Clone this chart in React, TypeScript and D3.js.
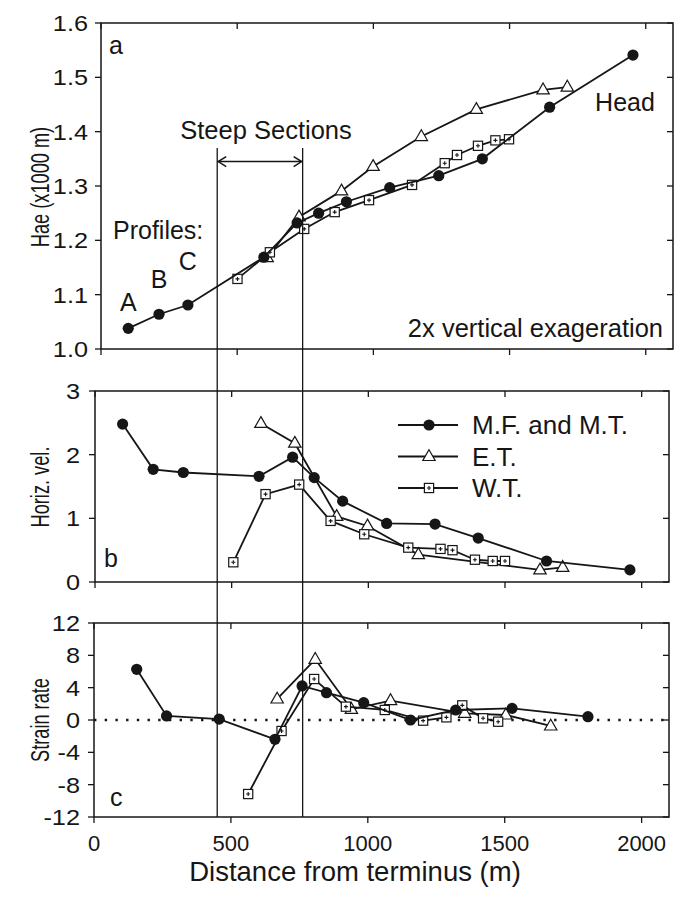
import React from "react";
import * as d3 from "d3";

// ---------- data ----------
const xTicks = [0, 500, 1000, 1500, 2000];

// panel a: elevation (x1000 m)
const mfDistA = [100, 213, 319, 598, 720, 799, 901, 1060, 1240, 1400, 1647, 1953];
const mfElev = [1.038, 1.064, 1.081, 1.169, 1.232, 1.25, 1.271, 1.297, 1.319, 1.35, 1.445, 1.541];
const etDistA = [610, 727, 883, 999, 1176, 1378, 1623, 1712];
const etElev = [1.168, 1.243, 1.291, 1.336, 1.391, 1.441, 1.477, 1.482];
const wtDistA = [501, 620, 746, 858, 984, 1142, 1262, 1307, 1384, 1448, 1498];
const wtElev = [1.129, 1.178, 1.221, 1.252, 1.274, 1.302, 1.342, 1.357, 1.374, 1.384, 1.386];
const elevTicks = [1.0, 1.1, 1.2, 1.3, 1.4, 1.5, 1.6];

// panel b: horizontal velocity
const mfDistB = [101, 213, 323, 600, 723, 802, 906, 1067, 1244, 1402, 1652, 1957];
const mfVel = [2.48, 1.77, 1.72, 1.66, 1.96, 1.64, 1.27, 0.92, 0.91, 0.69, 0.33, 0.19];
const etDistB = [607, 731, 884, 997, 1183, 1628, 1711];
const etVel = [2.49, 2.18, 1.03, 0.88, 0.43, 0.19, 0.23];
const wtDistB = [506, 624, 747, 862, 985, 1146, 1264, 1308, 1390, 1455, 1500];
const wtVel = [0.31, 1.38, 1.53, 0.96, 0.75, 0.54, 0.52, 0.5, 0.35, 0.33, 0.33];
const velTicks = [0, 1, 2, 3];

// panel c: strain rate
const mfDistC = [156, 265, 457, 661, 760, 849, 985, 1156, 1321, 1527, 1804];
const mfStrain = [6.27, 0.5, 0.12, -2.39, 4.21, 3.38, 2.14, 0.0, 1.24, 1.44, 0.41];
const etDistC = [669, 808, 940, 1083, 1354, 1504, 1668];
const etStrain = [2.6, 7.51, 1.32, 2.4, 0.83, 0.62, -0.74];
const wtDistC = [563, 685, 804, 920, 1062, 1202, 1287, 1345, 1421, 1476];
const wtStrain = [-9.16, -1.36, 5.07, 1.65, 1.24, -0.08, 0.33, 1.81, 0.21, -0.21];
const strainTicks = [12, 8, 4, 0, -4, -8, -12];

const legendLabels = ["M.F. and M.T.", "E.T.", "W.T."];
const steepBounds = [450, 762];
const profileLabels = ["A", "B", "C"];

// ---------- style ----------
const FONT = "Liberation Sans, Arial, sans-serif";
const INK = "#161616";

type Kind = "circle" | "triangle" | "square";

function Marker({ x, y, kind }: { x: number; y: number; kind: Kind }) {
  if (kind === "circle") return <circle cx={x} cy={y} r={5.6} fill={INK} />;
  if (kind === "triangle")
    return (
      <path
        d={`M${x},${y - 6.8}L${x + 6.2},${y + 4}L${x - 6.2},${y + 4}Z`}
        fill="#fff"
        stroke={INK}
        strokeWidth={1.2}
      />
    );
  return (
    <g>
      <rect x={x - 4.6} y={y - 4.6} width={9.2} height={9.2} fill="#fff" stroke={INK} strokeWidth={1.2} />
      <path d={`M${x - 2},${y}H${x + 2}M${x},${y - 2}V${y + 2}`} stroke={INK} strokeWidth={1.1} />
    </g>
  );
}

function Series({ xs, ys, sx, sy, kind }: { xs: number[]; ys: number[]; sx: any; sy: any; kind: Kind }) {
  const pts = xs.map((v, i) => [sx(v), sy(ys[i])] as [number, number]);
  const line = d3.line()(pts) || "";
  return (
    <g>
      <path d={line} fill="none" stroke={INK} strokeWidth={1.8} />
      {pts.map((p, i) => (
        <Marker key={i} x={p[0]} y={p[1]} kind={kind} />
      ))}
    </g>
  );
}

function Frame({ sx, sy, yTicks, fmt, labelGap }: { sx: any; sy: any; yTicks: number[]; fmt: (v: number) => string; labelGap: number }) {
  const [x0, x1] = sx.range();
  const [yb, yt] = sy.range();
  const T = 6;
  return (
    <g>
      <rect x={x0} y={yt} width={x1 - x0} height={yb - yt} fill="none" stroke={INK} strokeWidth={1.5} />
      {xTicks.map((t) => (
        <g key={"x" + t}>
          <line x1={sx(t)} x2={sx(t)} y1={yb} y2={yb + T} stroke={INK} strokeWidth={1.3} />
          <line x1={sx(t)} x2={sx(t)} y1={yt} y2={yt + T} stroke={INK} strokeWidth={1.3} />
        </g>
      ))}
      {yTicks.map((t) => (
        <g key={"y" + t}>
          <line x1={x0 - T} x2={x0} y1={sy(t)} y2={sy(t)} stroke={INK} strokeWidth={1.3} />
          <line x1={x1 - T} x2={x1} y1={sy(t)} y2={sy(t)} stroke={INK} strokeWidth={1.3} />
          <g transform={`translate(${x0 - T - labelGap},${sy(t)}) scale(1.15,1)`}>
            <text dy="0.36em" textAnchor="end" fontSize={22} fontFamily={FONT} fill={INK}>
              {fmt(t)}
            </text>
          </g>
        </g>
      ))}
    </g>
  );
}

function YTitle({ x, y, text }: { x: number; y: number; text: string }) {
  return (
    <g transform={`translate(${x},${y}) rotate(-90) scale(0.7,1)`}>
      <text textAnchor="middle" fontSize={26} fontFamily={FONT} fill={INK} dy="0.36em">
        {text}
      </text>
    </g>
  );
}

export default function App() {
  const xA = d3.scaleLinear().domain([0, 2100]).range([101, 673]);
  const yA = d3.scaleLinear().domain([1.0, 1.6]).range([349, 23]);
  const xB = d3.scaleLinear().domain([0, 2100]).range([95, 669]);
  const yB = d3.scaleLinear().domain([0, 3]).range([582, 391]);
  const xC = d3.scaleLinear().domain([0, 2100]).range([94, 669]);
  const yC = d3.scaleLinear().domain([-12, 12]).range([817, 623]);

  const sL = xC(steepBounds[0]);
  const sR = xC(steepBounds[1]);
  const steepTop = yA(1.37);
  const arrowY = yA(1.345);

  const legendRows = [
    { label: legendLabels[0], kind: "circle" as Kind },
    { label: legendLabels[1], kind: "triangle" as Kind },
    { label: legendLabels[2], kind: "square" as Kind },
  ];

  return (
    <svg width={675} height={912} style={{ position: "absolute", left: 0, top: 0, background: "#fff" }}>
      {/* panel a */}
      <Frame sx={xA} sy={yA} yTicks={elevTicks} fmt={(v) => v.toFixed(1)} labelGap={7} />
      <Series xs={etDistA} ys={etElev} sx={xA} sy={yA} kind="triangle" />
      <Series xs={wtDistA} ys={wtElev} sx={xA} sy={yA} kind="square" />
      <Series xs={mfDistA} ys={mfElev} sx={xA} sy={yA} kind="circle" />
      <text x={109} y={54} fontSize={25} fontFamily={FONT} fill={INK}>a</text>
      <text x={113} y={239} fontSize={25} fontFamily={FONT} fill={INK}>Profiles:</text>
      {profileLabels.map((p, i) => (
        <text
          key={p}
          x={xA(mfDistA[i])}
          y={yA(mfElev[i]) - 17 - i * 9}
          textAnchor="middle"
          fontSize={25}
          fontFamily={FONT}
          fill={INK}
        >
          {p}
        </text>
      ))}
      <text x={625} y={111} textAnchor="middle" fontSize={25} fontFamily={FONT} fill={INK}>Head</text>
      <text x={663} y={337} textAnchor="end" fontSize={25.5} fontFamily={FONT} fill={INK}>2x vertical exageration</text>
      <text x={266} y={139} textAnchor="middle" fontSize={25.5} fontFamily={FONT} fill={INK}>Steep Sections</text>

      {/* steep section markers */}
      <line x1={sL} x2={sL} y1={steepTop} y2={yC(-12)} stroke={INK} strokeWidth={1.3} />
      <line x1={sR} x2={sR} y1={steepTop} y2={yC(-12)} stroke={INK} strokeWidth={1.3} />
      <line x1={sL + 1} x2={sR - 1} y1={arrowY} y2={arrowY} stroke={INK} strokeWidth={1.5} />
      <path d={`M${sL + 9},${arrowY - 5}L${sL + 1},${arrowY}L${sL + 9},${arrowY + 5}`} fill="none" stroke={INK} strokeWidth={1.5} />
      <path d={`M${sR - 9},${arrowY - 5}L${sR - 1},${arrowY}L${sR - 9},${arrowY + 5}`} fill="none" stroke={INK} strokeWidth={1.5} />

      {/* panel b */}
      <Frame sx={xB} sy={yB} yTicks={velTicks} fmt={(v) => String(v)} labelGap={9} />
      <Series xs={etDistB} ys={etVel} sx={xB} sy={yB} kind="triangle" />
      <Series xs={wtDistB} ys={wtVel} sx={xB} sy={yB} kind="square" />
      <Series xs={mfDistB} ys={mfVel} sx={xB} sy={yB} kind="circle" />
      <text x={104} y={567} fontSize={25} fontFamily={FONT} fill={INK}>b</text>
      {legendRows.map((r, i) => {
        const y = 425 + i * 31.5;
        return (
          <g key={r.label}>
            <line x1={398} x2={458} y1={y} y2={y} stroke={INK} strokeWidth={1.8} />
            <Marker x={429} y={y} kind={r.kind} />
            <text x={472} y={y} dy="0.36em" fontSize={26} fontFamily={FONT} fill={INK}>{r.label}</text>
          </g>
        );
      })}

      {/* panel c */}
      <Frame sx={xC} sy={yC} yTicks={strainTicks} fmt={(v) => String(v)} labelGap={8} />
      <line x1={xC(0)} x2={xC(2100)} y1={yC(0)} y2={yC(0)} stroke={INK} strokeWidth={2.4} strokeDasharray="2.4 8.3" />
      <Series xs={etDistC} ys={etStrain} sx={xC} sy={yC} kind="triangle" />
      <Series xs={wtDistC} ys={wtStrain} sx={xC} sy={yC} kind="square" />
      <Series xs={mfDistC} ys={mfStrain} sx={xC} sy={yC} kind="circle" />
      <text x={110} y={806} fontSize={25} fontFamily={FONT} fill={INK}>c</text>

      {/* x axis labels */}
      {xTicks.map((t) => (
        <text key={t} x={xC(t)} y={851} textAnchor="middle" fontSize={22} fontFamily={FONT} fill={INK}>
          {t}
        </text>
      ))}
      <text x={355} y={881} textAnchor="middle" fontSize={27.5} fontFamily={FONT} fill={INK}>
        Distance from terminus (m)
      </text>

      {/* y titles */}
      <YTitle x={40} y={187} text="Hae (x1000 m)" />
      <YTitle x={40} y={487} text="Horiz. vel." />
      <YTitle x={40} y={720} text="Strain rate" />
    </svg>
  );
}
